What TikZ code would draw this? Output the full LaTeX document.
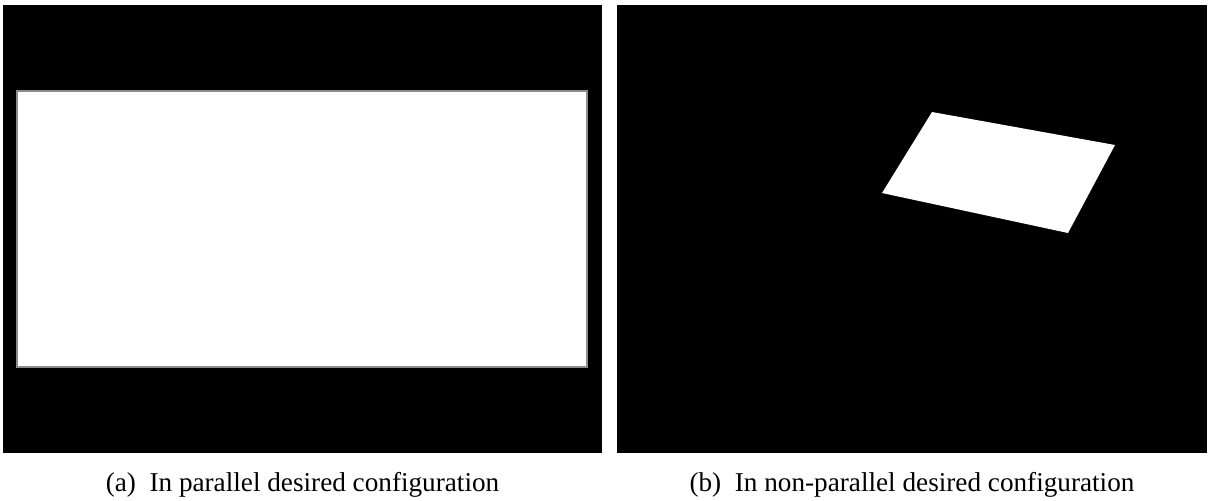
\documentclass[tikz,border=0pt]{standalone}
\usepackage{fontspec}
\setmainfont{Liberation Serif}
\begin{document}
\begin{tikzpicture}[x=0.5pt,y=-0.5pt]
\useasboundingbox (0,0) rectangle (1209,500);
{\fontsize{13.6}{16}\selectfont

% Panel a: black frame
\fill [black] (3,5) rectangle (602,453);%

% Panel a: white target, slightly soft edge
\fill [white] (17,91) rectangle (587,367);%
\draw [line width=0.8pt, black!45] (17,91) rectangle (587,367);%

% Panel b: black frame
\fill [black] (617,5) rectangle (1207,453);%

% Panel b: tilted white target
\fill [white] (932,112) -- (1115,145) -- (1068,233) -- (882,193) -- cycle;%

% Caption a
\draw (302.5,491) node [anchor=base] (capa) { (a)\ \ In parallel desired configuration };%

% Caption b
\draw (912,491) node [anchor=base] (capb) { (b)\ \ In non-parallel desired configuration };%
}
\end{tikzpicture}
\end{document}
